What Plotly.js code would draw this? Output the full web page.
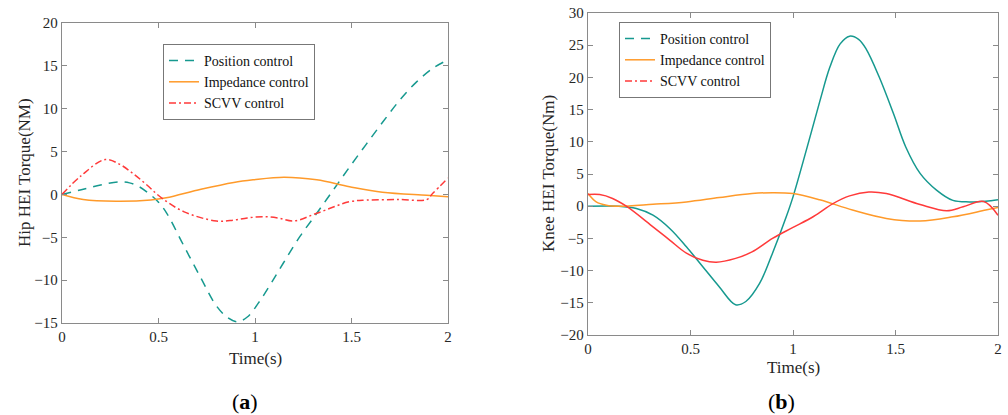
<!DOCTYPE html>
<html>
<head>
<meta charset="utf-8">
<script src="https://cdn.plot.ly/plotly-3.0.1.min.js"></script>
<style>html,body{margin:0;padding:0;background:#fff;}#chart{width:1008px;height:415px;}</style>
</head>
<body>
<div id="chart"></div>
<script>
// ---- Panel (a): Hip HEI torque ----
const hipPosT = [0, 0.1, 0.2, 0.29, 0.35, 0.4, 0.45, 0.5, 0.543, 0.629, 0.716, 0.80, 0.86, 0.91, 0.96, 1.02, 1.08, 1.147, 1.233, 1.32, 1.405, 1.49, 1.578, 1.664, 1.75, 1.836, 1.92, 2.0];
const hipPosY = [0, 0.55, 1.1, 1.45, 1.35, 0.9, 0.1, -0.9, -2.2, -5.9, -9.6, -13.0, -14.4, -14.85, -14.3, -12.6, -10.5, -8.0, -4.9, -2.2, 0.5, 3.2, 5.9, 8.5, 11.0, 13.1, 14.7, 15.7];
const hipImpT = [0, 0.11, 0.28, 0.46, 0.54, 0.72, 0.89, 0.99, 1.15, 1.32, 1.49, 1.66, 1.89, 2.0];
const hipImpY = [0, -0.6, -0.8, -0.66, -0.4, 0.6, 1.4, 1.7, 2.0, 1.7, 0.9, 0.25, -0.1, -0.27];
const hipScvT = [0, 0.1, 0.224, 0.3, 0.37, 0.44, 0.51, 0.63, 0.80, 0.888, 0.96, 1.04, 1.12, 1.2, 1.32, 1.49, 1.58, 1.75, 1.89, 1.92, 2.0];
const hipScvY = [0, 2.2, 4.07, 3.5, 2.4, 1.1, -0.3, -2.0, -3.1, -3.0, -2.75, -2.6, -2.75, -3.1, -2.2, -0.85, -0.66, -0.6, -0.6, 0.1, 1.9];

// ---- Panel (b): Knee HEI torque ----
const kneePosT = [0, 0.15, 0.236, 0.317, 0.40, 0.48, 0.56, 0.64, 0.72, 0.77, 0.837, 0.90, 0.967, 1.0, 1.065, 1.13, 1.18, 1.23, 1.276, 1.32, 1.357, 1.42, 1.49, 1.55, 1.62, 1.70, 1.78, 1.86, 1.94, 2.0];
const kneePosY = [0, 0.0, -0.36, -1.4, -3.5, -6.3, -9.4, -12.5, -15.3, -14.8, -12.0, -7.3, -1.65, 1.45, 8.7, 16.2, 21.6, 25.2, 26.4, 25.9, 24.4, 20.1, 14.4, 9.2, 5.1, 2.5, 0.9, 0.67, 0.78, 1.0];
const kneeImpT = [0, 0.04, 0.09, 0.15, 0.317, 0.48, 0.64, 0.80, 0.90, 1.0, 1.13, 1.29, 1.455, 1.62, 1.78, 1.94, 2.0];
const kneeImpY = [1.96, 0.67, 0.15, 0.0, 0.3, 0.67, 1.35, 1.96, 2.1, 1.96, 1.0, -0.6, -1.9, -2.3, -1.65, -0.6, -0.2];
const kneeScvT = [0, 0.057, 0.12, 0.187, 0.317, 0.40, 0.48, 0.56, 0.626, 0.72, 0.80, 0.90, 1.0, 1.10, 1.195, 1.276, 1.37, 1.455, 1.62, 1.75, 1.83, 1.93, 2.0];
const kneeScvY = [1.8, 1.8, 1.2, 0.0, -3.2, -5.3, -7.3, -8.4, -8.7, -8.1, -7.1, -5.0, -3.3, -1.6, 0.4, 1.6, 2.2, 1.96, 0.26, -0.7, -0.1, 0.72, -1.4];

const seriesNames = ['Position control', 'Impedance control', 'SCVV control'];
const xTicks = [0, 0.5, 1, 1.5, 2];
const xTickText = ['0', '0.5', '1', '1.5', '2'];
const hipYTicks = [-15, -10, -5, 0, 5, 10, 15, 20];
const kneeYTicks = [-20, -15, -10, -5, 0, 5, 10, 15, 20, 25, 30];

const TEAL = '#16998f', ORANGE = '#ff9a2a', RED = '#ff3a3a';
const FONT = 'Liberation Serif';
const W = 1008, H = 415;
const px = v => v / W, py = v => 1 - v / H;

const traces = [
  {x: hipPosT, y: hipPosY, name: seriesNames[0], mode: 'lines', line: {color: TEAL, width: 1.5, dash: '9px,7px', shape: 'spline'}, xaxis: 'x', yaxis: 'y', legend: 'legend'},
  {x: hipImpT, y: hipImpY, name: seriesNames[1], mode: 'lines', line: {color: ORANGE, width: 1.5, shape: 'spline'}, xaxis: 'x', yaxis: 'y', legend: 'legend'},
  {x: hipScvT, y: hipScvY, name: seriesNames[2], mode: 'lines', line: {color: RED, width: 1.5, dash: '7px,3px,2px,3px', shape: 'spline'}, xaxis: 'x', yaxis: 'y', legend: 'legend'},
  {x: kneePosT, y: kneePosY, name: seriesNames[0], mode: 'lines', line: {color: TEAL, width: 1.5, shape: 'spline'}, xaxis: 'x2', yaxis: 'y2', showlegend: false},
  {x: kneeImpT, y: kneeImpY, name: seriesNames[1], mode: 'lines', line: {color: ORANGE, width: 1.5, shape: 'spline'}, xaxis: 'x2', yaxis: 'y2', showlegend: false},
  {x: kneeScvT, y: kneeScvY, name: seriesNames[2], mode: 'lines', line: {color: RED, width: 1.5, shape: 'spline'}, xaxis: 'x2', yaxis: 'y2', showlegend: false},
  // legend entries for panel (b)
  {x: [null], y: [null], name: seriesNames[0], mode: 'lines', line: {color: TEAL, width: 1.5, dash: '9px,7px'}, xaxis: 'x2', yaxis: 'y2', legend: 'legend2'},
  {x: [null], y: [null], name: seriesNames[1], mode: 'lines', line: {color: ORANGE, width: 1.5}, xaxis: 'x2', yaxis: 'y2', legend: 'legend2'},
  {x: [null], y: [null], name: seriesNames[2], mode: 'lines', line: {color: RED, width: 1.5, dash: '7px,3px,2px,3px'}, xaxis: 'x2', yaxis: 'y2', legend: 'legend2'}
];

const axisCommon = {
  showgrid: false, zeroline: false, showline: true, linecolor: '#8a8a8a', linewidth: 1.2,
  mirror: 'ticks', ticks: 'inside', ticklen: 5, tickcolor: '#8a8a8a', tickwidth: 1,
  tickfont: {family: FONT, size: 15, color: '#262626'}, fixedrange: true
};

const legendCommon = {
  font: {family: FONT, size: 14, color: '#111'},
  bordercolor: '#777', borderwidth: 1, bgcolor: '#fff',
  xanchor: 'left', yanchor: 'top', tracegroupgap: 0, itemwidth: 30
};

const ann = (text, x, y, size, extra) => Object.assign({
  text: text, x: px(x), y: py(y), xref: 'paper', yref: 'paper', showarrow: false,
  xanchor: 'center', yanchor: 'middle', font: {family: FONT, size: size, color: '#262626'}
}, extra || {});

const layout = {
  width: W, height: H,
  margin: {l: 0, r: 0, t: 0, b: 0},
  paper_bgcolor: '#fff', plot_bgcolor: '#fff',
  showlegend: true,
  xaxis: Object.assign({}, axisCommon, {domain: [px(62), px(448)], range: [0, 2], tickvals: xTicks, ticktext: xTickText, anchor: 'y'}),
  yaxis: Object.assign({}, axisCommon, {domain: [py(323), py(23)], range: [-15, 20], tickvals: hipYTicks, anchor: 'x'}),
  xaxis2: Object.assign({}, axisCommon, {domain: [px(588), px(998)], range: [0, 2], tickvals: xTicks, ticktext: xTickText, anchor: 'y2'}),
  yaxis2: Object.assign({}, axisCommon, {domain: [py(335), py(13)], range: [-20, 30], tickvals: kneeYTicks, anchor: 'x2'}),
  legend: Object.assign({}, legendCommon, {x: px(163), y: py(44)}),
  legend2: Object.assign({}, legendCommon, {x: px(619), y: py(22)}),
  annotations: [
    ann('Time(s)', 255, 358, 17),
    ann('Time(s)', 793, 367, 17),
    ann('Hip HEI Torque(NM)', 24, 173, 17, {textangle: -90}),
    ann('Knee HEI Torque(Nm)', 548, 174, 17, {textangle: -90}),
    ann('(<b>a</b>)', 245, 401, 22, {font: {family: FONT, size: 22, color: '#000'}}),
    ann('(<b>b</b>)', 781, 401, 22, {font: {family: FONT, size: 22, color: '#000'}})
  ]
};

Plotly.newPlot('chart', traces, layout, {staticPlot: true, displayModeBar: false});
</script>
</body>
</html>
